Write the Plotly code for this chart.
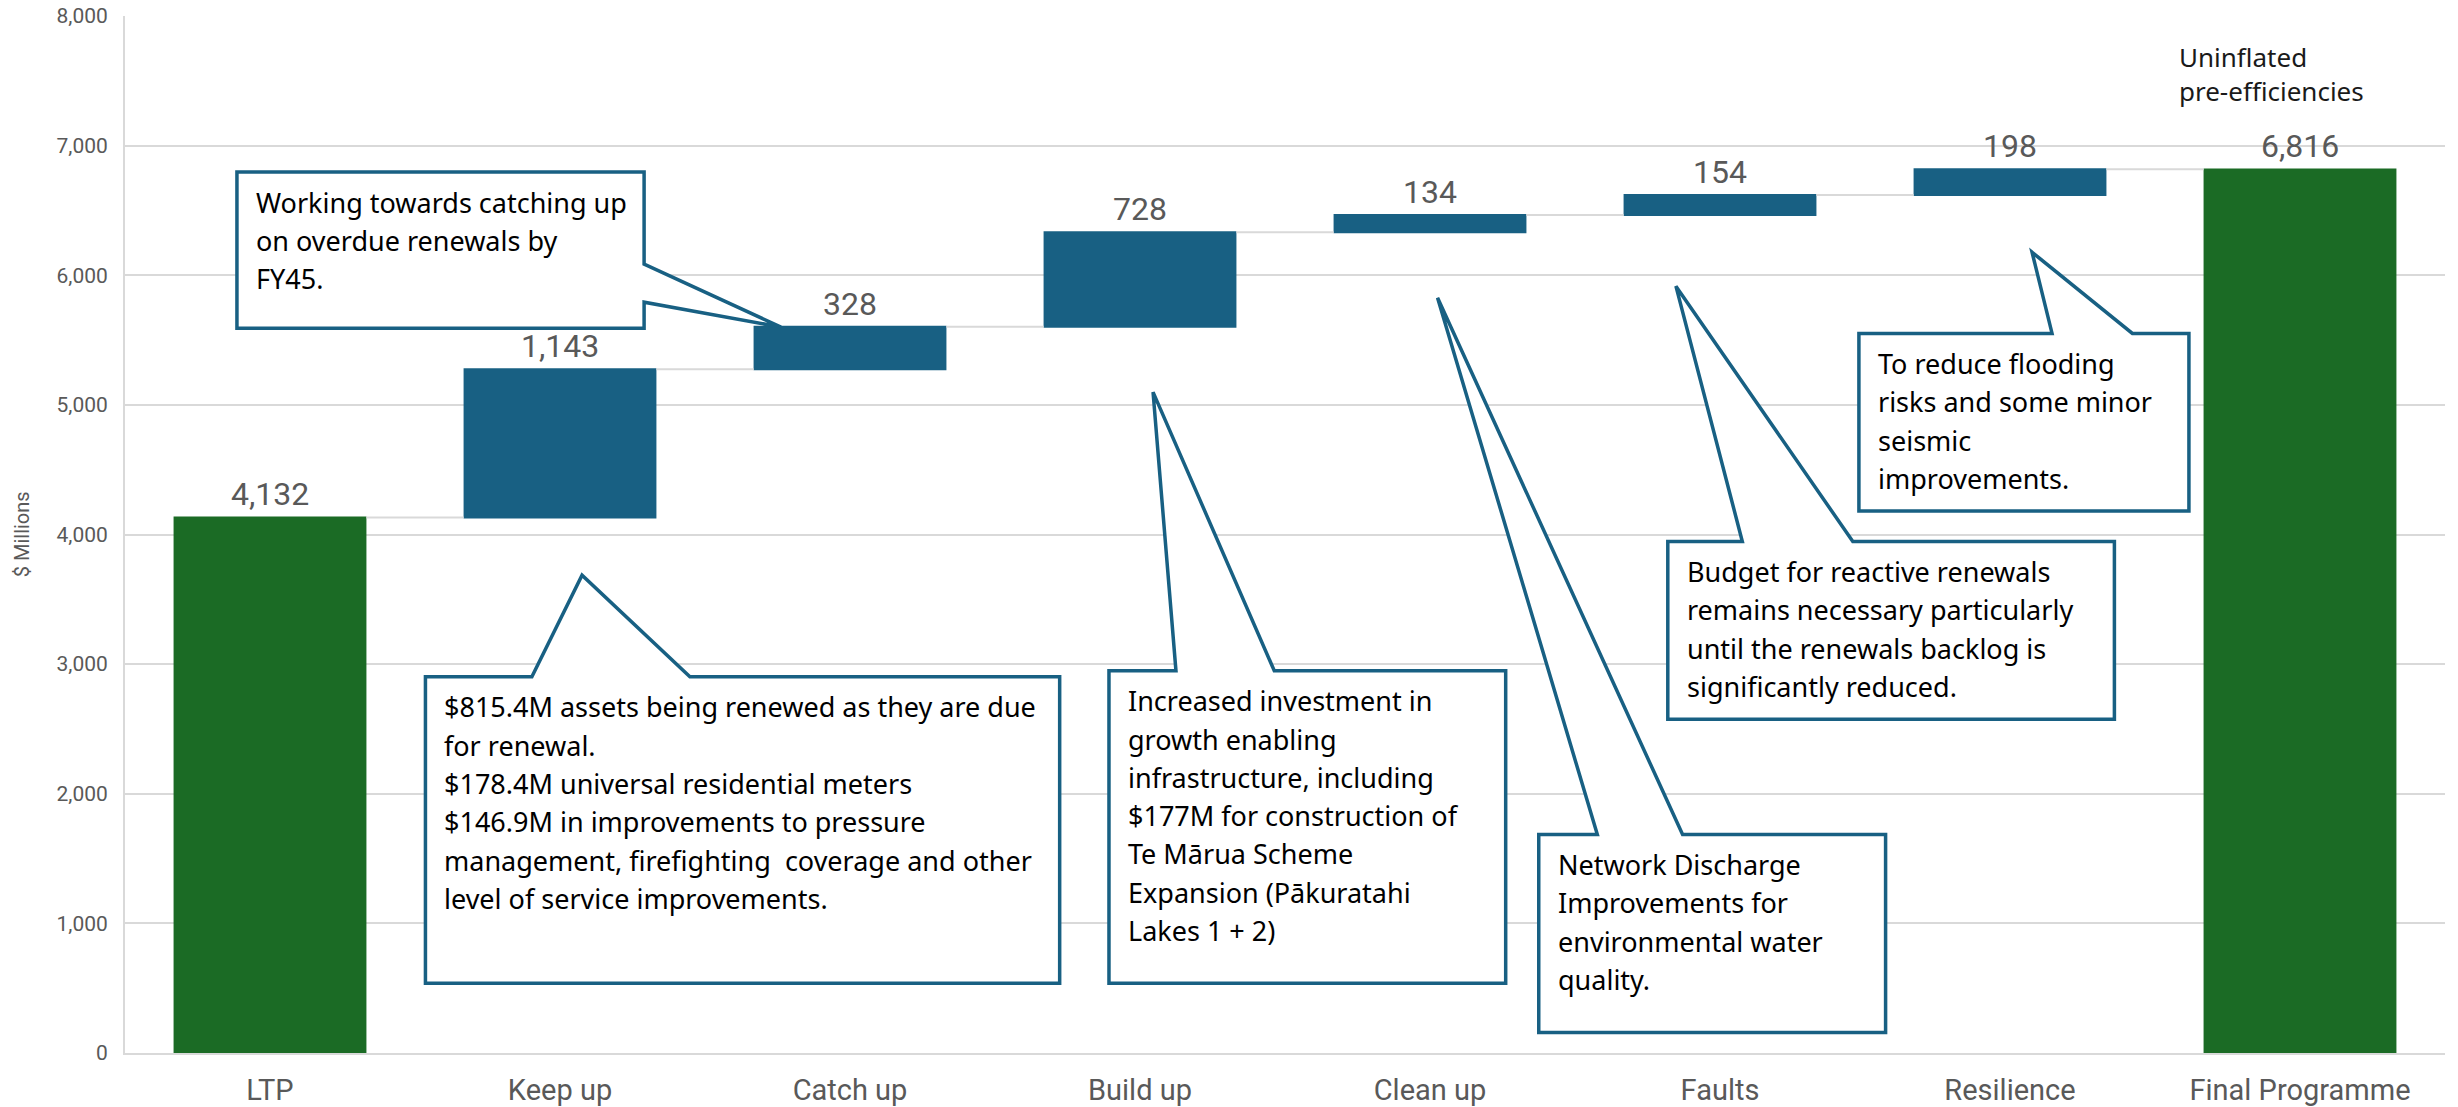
import plotly.graph_objects as go

# ---------------- data ----------------
categories = ["LTP", "Keep up", "Catch up", "Build up", "Clean up", "Faults", "Resilience", "Final Programme"]
values = [4132, 1143, 328, 728, 134, 154, 198, 6816]
measures = ["absolute", "relative", "relative", "relative", "relative", "relative", "relative", "absolute"]
value_labels = [f"{v:,}" for v in values]
y_tick_values = [0, 1000, 2000, 3000, 4000, 5000, 6000, 7000, 8000]
y_tick_labels = [f"{v:,}" for v in y_tick_values]
y_title = "$ Millions"
total_note = ["Uninflated", "pre-efficiencies"]

callout_texts = [
    ["Working towards catching up", "on overdue renewals by", "FY45."],
    ["$815.4M assets being renewed as they are due", "for renewal.",
     "$178.4M universal residential meters", "$146.9M in improvements to pressure",
     "management, firefighting  coverage and other", "level of service improvements."],
    ["Increased investment in", "growth enabling", "infrastructure, including",
     "$177M for construction of", "Te Mārua Scheme", "Expansion (Pākuratahi", "Lakes 1 + 2)"],
    ["Network Discharge", "Improvements for", "environmental water", "quality."],
    ["Budget for reactive renewals", "remains necessary particularly",
     "until the renewals backlog is", "significantly reduced."],
    ["To reduce flooding", "risks and some minor", "seismic", "improvements."],
]

# ---------------- styles ----------------
GREEN = "#1B6B25"
BLUE = "#186083"
LABEL_GREY = "#595959"
GRID = "#D9D9D9"
NUM_FONT = "Roboto, Arial, sans-serif"
BOX_FONT = "Noto Sans, Open Sans, sans-serif"

x_pos = list(range(len(categories)))

fig = go.Figure(go.Waterfall(
    x=x_pos, y=values, measure=measures,
    text=value_labels, textposition="outside",
    textfont=dict(size=32, color=LABEL_GREY, family=NUM_FONT),
    increasing=dict(marker=dict(color=BLUE)),
    decreasing=dict(marker=dict(color=BLUE)),
    totals=dict(marker=dict(color=GREEN)),
    connector=dict(mode="between", line=dict(color=GRID, width=2)),
    cliponaxis=False, hoverinfo="skip",
))

# callout geometry (layout only, in axis units): box x0,x1,y0,y1, pointer, tip
callout_geom = [
    dict(kind="right", box=(-0.114, 1.290, 5592, 6796), base=(6086, 5792), tip=(1.762, 5600)),
    dict(kind="top", box=(0.536, 2.723, 539, 2902), base=(0.903, 1.448), tip=(1.076, 3686)),
    dict(kind="top", box=(2.893, 4.261, 539, 2949), base=(3.124, 3.463), tip=(3.045, 5098)),
    dict(kind="top", box=(4.375, 5.571, 159, 1685), base=(4.577, 4.871), tip=(4.026, 5827)),
    dict(kind="top", box=(4.820, 6.360, 2574, 3946), base=(5.077, 5.458), tip=(4.848, 5916)),
    dict(kind="top", box=(5.479, 6.617, 4182, 5551), base=(6.145, 6.422), tip=(6.076, 6178)),
]

shapes = []
annotations = []
for geom, lines in zip(callout_geom, callout_texts):
    x0, x1, y0, y1 = geom["box"]
    tx, ty = geom["tip"]
    if geom["kind"] == "top":
        b0, b1 = geom["base"]
        path = (f"M {x0},{y1} L {b0},{y1} L {tx},{ty} L {b1},{y1} L {x1},{y1} "
                f"L {x1},{y0} L {x0},{y0} Z")
    else:
        p0, p1 = geom["base"]
        path = (f"M {x0},{y1} L {x1},{y1} L {x1},{p0} L {tx},{ty} L {x1},{p1} "
                f"L {x1},{y0} L {x0},{y0} Z")
    shapes.append(dict(type="path", path=path, xref="x", yref="y", layer="above",
                       fillcolor="white", line=dict(color=BLUE, width=3.5)))
    for i, line in enumerate(lines):
        annotations.append(dict(
            x=x0, y=y1, xref="x", yref="y", text=line, showarrow=False,
            xanchor="left", yanchor="middle", xshift=17, yshift=-(30 + i * 38.3),
            font=dict(family=BOX_FONT, size=27, color="#000000"),
        ))

# note above final bar
for i, line in enumerate(total_note):
    annotations.append(dict(
        x=6.583, y=7680, xref="x", yref="y", text=line, showarrow=False,
        xanchor="left", yanchor="middle", xshift=-2, yshift=-i * 34,
        font=dict(family=BOX_FONT, size=26, color="#1A1A1A"),
    ))

# y-axis title
annotations.append(dict(
    x=-0.0445, y=0.5, xref="paper", yref="paper", text=y_title, showarrow=False,
    textangle=-90, xanchor="center", yanchor="middle",
    font=dict(family=NUM_FONT, size=20, color=LABEL_GREY),
))

fig.update_layout(
    width=2458, height=1107,
    margin=dict(l=125, r=13, t=16, b=54, autoexpand=False),
    plot_bgcolor="white", paper_bgcolor="white",
    waterfallgap=0.335, showlegend=False,
    shapes=shapes, annotations=annotations,
    xaxis=dict(
        range=[-0.5, 7.5], tickmode="array", tickvals=x_pos, ticktext=categories,
        showgrid=False, zeroline=False, showline=True, linecolor=GRID, linewidth=2,
        ticks="", tickfont=dict(family=NUM_FONT, size=29, color=LABEL_GREY),
        ticklabelstandoff=10, automargin=False,
    ),
    yaxis=dict(
        range=[0, 8000], tickmode="array", tickvals=y_tick_values, ticktext=y_tick_labels,
        showgrid=True, gridcolor=GRID, gridwidth=2, zeroline=False,
        showline=True, linecolor=GRID, linewidth=2, ticks="",
        tickfont=dict(family=NUM_FONT, size=21, color=LABEL_GREY),
        ticklabelstandoff=11, automargin=False,
    ),
)

fig.write_html("out.html")
